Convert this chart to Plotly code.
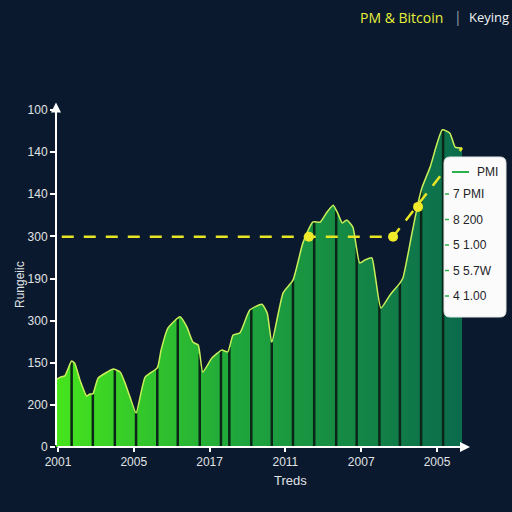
import numpy as np
import plotly.graph_objects as go

# ---- data ----
curve_x = [-0.03, 0.03, 0.09, 0.18, 0.22, 0.29, 0.38, 0.42, 0.46, 0.53, 0.65, 0.73, 0.82, 0.88, 0.95,
           1.03, 1.15, 1.31, 1.36, 1.45, 1.61, 1.70, 1.78, 1.85, 1.91, 2.03, 2.16, 2.24, 2.31, 2.40,
           2.53, 2.69, 2.76, 2.82, 2.97, 3.10, 3.23, 3.36, 3.46, 3.55, 3.63, 3.69, 3.75, 3.81, 3.89,
           3.98, 4.05, 4.14, 4.18, 4.26, 4.38, 4.51, 4.55, 4.67, 4.75, 4.80, 4.91, 5.07, 5.17, 5.24, 5.33]
curve_y = [1.59, 1.66, 1.69, 2.04, 1.99, 1.59, 1.21, 1.26, 1.26, 1.64, 1.78, 1.85, 1.78, 1.54, 1.19,
           0.81, 1.66, 1.88, 2.30, 2.82, 3.09, 2.85, 2.49, 2.42, 1.78, 2.11, 2.30, 2.26, 2.66, 2.71,
           3.25, 3.39, 3.18, 2.49, 3.66, 3.96, 4.84, 5.34, 5.34, 5.58, 5.74, 5.55, 5.32, 5.39, 5.22,
           4.37, 4.44, 4.49, 4.13, 3.30, 3.61, 3.89, 4.01, 5.08, 5.79, 6.15, 6.65, 7.53, 7.45, 7.12, 7.10]

divider_x = [0.18, 0.46, 0.75, 1.03, 1.31, 1.58, 1.87, 2.15, 2.26, 2.55, 2.82, 3.10, 3.38, 3.67,
             3.94, 4.24, 4.51, 4.79, 5.08]

ref_x = [0.05, 4.42, 5.33]
ref_y = [4.99, 4.99, 7.10]
dot_x = [3.31, 4.42, 4.75]
dot_y = [4.99, 4.99, 5.70]

x_tickvals = [0, 1, 2, 3, 4, 5]
x_ticktext = ["2001", "2005", "2017", "2011", "2007", "2005"]
y_tickvals = [0, 1, 2, 3, 4, 5, 6, 7, 8]
y_ticktext = ["0", "200", "150", "300", "190", "300", "140", "140", "100"]

legend_title = "PMI"
legend_items = ["7 PMI", "8 200", "5 1.00", "5 5.7W", "4 1.00"]

# ---- layout helpers ----
W, H = 512, 512
ML, MR, MT, MB = 56, 42, 106, 65
PW, PH = W - ML - MR, H - MT - MB
BG = "#0a192d"


def px(x, y):
    return (x - ML) / PW, (H - MB - y) / PH


fig = go.Figure()

fig.add_trace(go.Scatter(
    x=curve_x, y=curve_y, mode="lines", fill="tozeroy",
    line=dict(width=0, shape="spline", smoothing=0.5),
    fillgradient=dict(type="horizontal",
                      colorscale=[[0, "#46e51c"], [0.45, "#1fa63c"], [1, "#0b6b4d"]]),
    hoverinfo="skip", showlegend=False))

# dark dividers from 0 up to the curve
vx, vy = [], []
for d in divider_x:
    top = float(np.interp(d, curve_x, curve_y))
    vx += [d, d, None]
    vy += [0, top, None]
fig.add_trace(go.Scatter(x=vx, y=vy, mode="lines",
                         line=dict(color="#0b2619", width=2.5),
                         hoverinfo="skip", showlegend=False))

fig.add_trace(go.Scatter(
    x=curve_x, y=curve_y, mode="lines",
    line=dict(color="#c9ef5a", width=1.5, shape="spline", smoothing=0.5),
    showlegend=False))

fig.add_trace(go.Scatter(x=ref_x, y=ref_y, mode="lines",
                         line=dict(color="#e6e624", width=2.5, dash="12px,10px"),
                         showlegend=False))
fig.add_trace(go.Scatter(x=dot_x, y=dot_y, mode="markers",
                         marker=dict(color="#f0ea2a", size=10),
                         showlegend=False))

fig.update_layout(
    width=W, height=H, paper_bgcolor=BG, plot_bgcolor=BG,
    margin=dict(l=ML, r=MR, t=MT, b=MB),
    font=dict(family="Liberation Sans, Arial, sans-serif", color="#d6dade", size=12),
    xaxis=dict(range=[-0.026, 5.435], tickvals=x_tickvals, ticktext=x_ticktext,
               showgrid=False, zeroline=False, showline=False,
               ticks="outside", ticklen=4, tickcolor="#ffffff", tickwidth=1.5,
               tickfont=dict(size=12, color="#e0e3e6")),
    yaxis=dict(range=[0, 8.095], tickvals=y_tickvals, ticktext=y_ticktext,
               showgrid=False, zeroline=False, showline=False,
               ticks="outside", ticklen=5, tickcolor="#ffffff", tickwidth=1.5,
               tickfont=dict(size=12, color="#e0e3e6")),
)

# axis arrows
fig.add_annotation(x=0, y=1.01, xref="paper", yref="paper", ax=0, ay=PH + 3,
                   showarrow=True, arrowhead=2, arrowsize=1, arrowwidth=2, arrowcolor="#ffffff", text="")
fig.add_annotation(x=1, y=0, xref="paper", yref="paper", ax=-PW, ay=0,
                   showarrow=True, arrowhead=2, arrowsize=1, arrowwidth=2, arrowcolor="#ffffff", text="")

# titles
for txt, xx, yy, col, anc, sz in [("PM & Bitcoin", 358, 17, "#e6ef3c", "left", 14),
                                  ("|", 458, 16, "#9aa3ad", "center", 14),
                                  ("Keying", 467, 17, "#f2f4f6", "left", 13)]:
    pxx, pyy = px(xx, yy)
    fig.add_annotation(x=pxx, y=pyy, xref="paper", yref="paper", text=txt, showarrow=False,
                       xanchor=anc, yanchor="middle",
                       font=dict(size=sz, color=col, family="Open Sans, Liberation Sans, sans-serif"))

ax_, ay_ = px(290, 481)
fig.add_annotation(x=ax_, y=ay_, xref="paper", yref="paper", text="Treds", showarrow=False,
                   font=dict(size=13, color="#e0e3e6"), xanchor="center", yanchor="middle")
ax_, ay_ = px(20, 285)
fig.add_annotation(x=ax_, y=ay_, xref="paper", yref="paper", text="Rungeiic", showarrow=False,
                   textangle=-90, font=dict(size=12, color="#e0e3e6"), xanchor="center", yanchor="middle")

# legend box
x0, y1 = px(444, 157)
x1, y0 = px(506, 317)
rx, ry = 6 / PW, 6 / PH
path = (f"M {x0+rx},{y1} L {x1-rx},{y1} Q {x1},{y1} {x1},{y1-ry} L {x1},{y0+ry} "
        f"Q {x1},{y0} {x1-rx},{y0} L {x0+rx},{y0} Q {x0},{y0} {x0},{y0+ry} "
        f"L {x0},{y1-ry} Q {x0},{y1} {x0+rx},{y1} Z")
fig.add_shape(type="path", path=path, xref="paper", yref="paper",
              fillcolor="#fbfbfb", line=dict(color="#e4e6e8", width=1), layer="above")
lx0, ly = px(452, 172)
lx1, _ = px(469, 172)
fig.add_shape(type="line", x0=lx0, x1=lx1, y0=ly, y1=ly, xref="paper", yref="paper",
              line=dict(color="#2cb04a", width=2), layer="above")
tx, ty = px(475, 172)
fig.add_annotation(x=tx, y=ty, xref="paper", yref="paper", text=legend_title, showarrow=False,
                   xanchor="left", yanchor="middle", font=dict(size=12, color="#1e2428"))
for i, item in enumerate(legend_items):
    yy = 194 + i * 25.5
    kx0, ky = px(445, yy)
    kx1, _ = px(449, yy)
    fig.add_shape(type="line", x0=kx0, x1=kx1, y0=ky, y1=ky, xref="paper", yref="paper",
                  line=dict(color="#2cb04a", width=1.5), layer="above")
    tx, ty = px(451, yy)
    fig.add_annotation(x=tx, y=ty, xref="paper", yref="paper", text=item, showarrow=False,
                       xanchor="left", yanchor="middle", font=dict(size=12, color="#1e2428"))

fig.write_html("out.html", config={"displayModeBar": False},
               post_script="document.body.style.margin='0';document.body.style.overflow='hidden';")
